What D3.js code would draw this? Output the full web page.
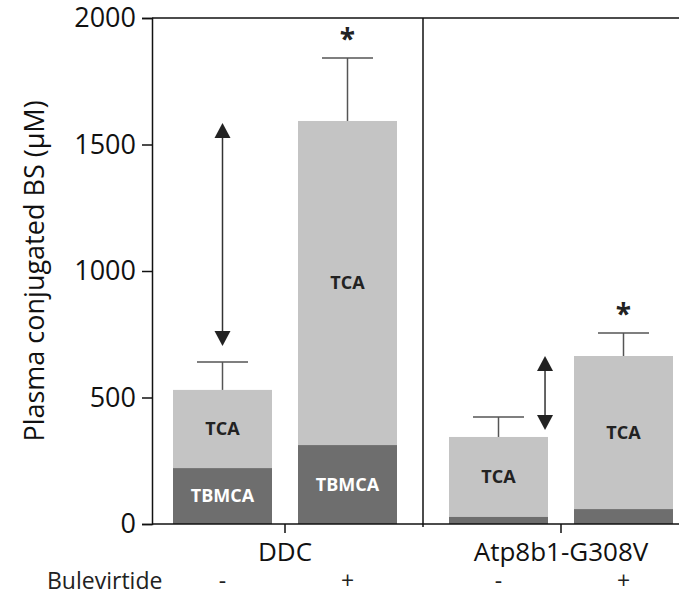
<!DOCTYPE html>
<html>
  <head>
    <script src="https://d3js.org/d3.v7.min.js"></script>
    <style>
      body { margin: 0; background: #fff; }
      text { font-family: "Open Sans", "Noto Sans", sans-serif; }
    </style>
  </head>
  <body>
    <svg width="679" height="596"></svg>
    <script>
      // values
      const groups = ["DDC", "Atp8b1-G308V"];
      const treatments = ["-", "+"];
      const tbmca = [[221, 312], [28, 59]];
      const total = [[530, 1593], [344, 664]];
      const errTop = [[640, 1842], [423, 755]];
      const stars = [[false, true], [false, true]];
      const yTicks = [0, 500, 1000, 1500, 2000];
      // arrows: group index, treatment index, where across bar, from, to
      const arrows = [
        { g: 0, t: 0, at: 0.5, from: 704, to: 1585 },
        { g: 1, t: 0, at: 0.97, from: 372, to: 664 }
      ];

      const rows = [];
      groups.forEach((g, gi) => treatments.forEach((t, ti) => rows.push({
        g: g, t: t, gi: gi, ti: ti,
        tbmca: tbmca[gi][ti], total: total[gi][ti], err: errTop[gi][ti], star: stars[gi][ti]
      })));

      const plotL = 152, plotT = 18, plotB = 524, plotR = 679;
      const svg = d3.select("svg");

      const x0 = d3.scaleBand().domain(groups).range([147, 699]);
      const x1 = d3.scaleBand().domain(treatments).range([0, x0.bandwidth()])
          .paddingInner(0.208).paddingOuter(0.208);
      const y = d3.scaleLinear().domain([0, 2000]).range([plotB, plotT]);

      const bx = d => x0(d.g) + x1(d.t);
      const bw = x1.bandwidth();

      // stacked bars
      svg.selectAll(".tca").data(rows).enter().append("rect")
          .attr("x", bx).attr("width", bw)
          .attr("y", d => y(d.total)).attr("height", d => y(d.tbmca) - y(d.total))
          .attr("fill", "#c4c4c4");
      svg.selectAll(".tbmca").data(rows).enter().append("rect")
          .attr("x", bx).attr("width", bw)
          .attr("y", d => y(d.tbmca)).attr("height", d => y(0) - y(d.tbmca))
          .attr("fill", "#6e6e6e");

      // segment labels
      svg.selectAll(".lbl-tca").data(rows).enter().append("text")
          .attr("x", d => bx(d) + bw / 2)
          .attr("y", d => y((d.total + d.tbmca) / 2))
          .attr("dy", "0.35em").attr("text-anchor", "middle")
          .style("font-size", "18px").style("font-weight", "bold").attr("fill", "#222")
          .text("TCA");
      svg.selectAll(".lbl-tbmca").data(rows.filter(d => d.tbmca > 150)).enter().append("text")
          .attr("x", d => bx(d) + bw / 2)
          .attr("y", d => y(d.tbmca / 2))
          .attr("dy", "0.35em").attr("text-anchor", "middle")
          .style("font-size", "18px").style("font-weight", "bold").attr("fill", "#fff")
          .text("TBMCA");

      // error bars
      const eb = svg.append("g").attr("stroke", "#555").attr("stroke-width", 1.5);
      eb.selectAll(".v").data(rows).enter().append("line")
          .attr("x1", d => bx(d) + bw / 2).attr("x2", d => bx(d) + bw / 2)
          .attr("y1", d => y(d.total)).attr("y2", d => y(d.err));
      eb.selectAll(".c").data(rows).enter().append("line")
          .attr("x1", d => bx(d) + bw / 2 - 25.5).attr("x2", d => bx(d) + bw / 2 + 25.5)
          .attr("y1", d => y(d.err)).attr("y2", d => y(d.err));

      svg.selectAll(".star").data(rows.filter(d => d.star)).enter().append("text")
          .attr("x", d => bx(d) + bw / 2)
          .attr("y", d => y(d.err) - 9)
          .attr("text-anchor", "middle")
          .style("font-size", "28px").style("font-weight", "bold").attr("fill", "#222")
          .text("*");

      // double-headed arrows
      const head = 15, half = 8;
      arrows.forEach(a => {
        const ax = x0(groups[a.g]) + x1(treatments[a.t]) + bw * a.at;
        const y1 = y(a.from), y2 = y(a.to);
        svg.append("line").attr("x1", ax).attr("x2", ax)
            .attr("y1", y1 - head + 1).attr("y2", y2 + head - 1)
            .attr("stroke", "#333").attr("stroke-width", 1.5);
        svg.append("path")
            .attr("d", `M${ax},${y2}L${ax - half},${y2 + head}L${ax + half},${y2 + head}Z`)
            .attr("fill", "#222");
        svg.append("path")
            .attr("d", `M${ax},${y1}L${ax - half},${y1 - head}L${ax + half},${y1 - head}Z`)
            .attr("fill", "#222");
      });

      // frame
      const frame = svg.append("g").attr("stroke", "#111").attr("stroke-width", 1.5);
      frame.append("line").attr("x1", plotL).attr("x2", plotR).attr("y1", plotT).attr("y2", plotT);
      frame.append("line").attr("x1", plotL).attr("x2", plotR).attr("y1", plotB).attr("y2", plotB);
      frame.append("line").attr("x1", x0(groups[1])).attr("x2", x0(groups[1]))
          .attr("y1", plotT).attr("y2", plotB + 3);
      frame.selectAll(".gt").data(groups).enter().append("line")
          .attr("x1", g => x0(g) + x0.bandwidth() / 2).attr("x2", g => x0(g) + x0.bandwidth() / 2)
          .attr("y1", plotB).attr("y2", plotB + 9);

      // y axis
      const yAxis = svg.append("g")
          .attr("transform", `translate(${plotL},0)`)
          .call(d3.axisLeft(y).tickValues(yTicks).tickSize(10).tickPadding(6).tickFormat(d3.format("d")));
      yAxis.selectAll("path, line").attr("stroke", "#111").attr("stroke-width", 1.5);
      yAxis.selectAll("text").style("font-size", "27px").attr("fill", "#111")
          .style("font-family", "'Open Sans', sans-serif");

      svg.append("text")
          .attr("transform", `translate(44,${(plotT + plotB) / 2}) rotate(-90)`)
          .attr("text-anchor", "middle")
          .style("font-size", "27px").attr("fill", "#111")
          .text("Plasma conjugated BS (µM)");

      // group and treatment labels
      svg.selectAll(".gl").data(groups).enter().append("text")
          .attr("x", g => x0(g) + x0.bandwidth() / 2).attr("y", 561)
          .attr("text-anchor", "middle")
          .style("font-size", "26px").attr("fill", "#111")
          .text(g => g);
      svg.append("text").attr("x", 47).attr("y", 589)
          .style("font-size", "23px").attr("fill", "#222").text("Bulevirtide");
      svg.selectAll(".tl").data(rows).enter().append("text")
          .attr("x", d => bx(d) + bw / 2).attr("y", 589)
          .attr("text-anchor", "middle")
          .style("font-size", "23px").attr("fill", "#222")
          .text(d => d.t);
    </script>
  </body>
</html>
